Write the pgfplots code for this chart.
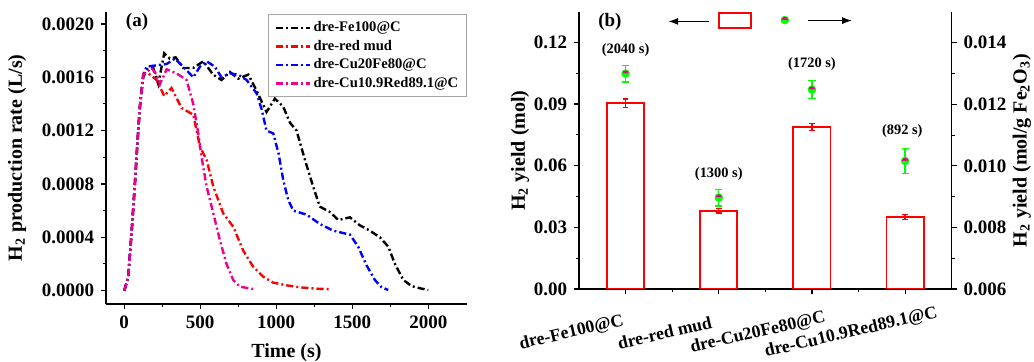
\documentclass[border=0pt]{standalone}
\usepackage{fontspec}
\setmainfont{Liberation Serif}
\usepackage{pgfplots}
\pgfplotsset{compat=1.18}
\usetikzlibrary{arrows.meta,plotmarks}
\pgfplotsset{
  dotlegend/.style={legend image code/.code={\draw[##1] plot coordinates {(0pt,0pt)};}},
  rectlegend/.style={legend image code/.code={\draw[red, line width=0.8pt, fill=none] (0pt,-3.75pt) rectangle (16pt,3.75pt);}},
}

\begin{document}
\begin{tikzpicture}
\useasboundingbox (0pt,0pt) rectangle (517pt,-181pt);
\pgfplotsset{
  every axis/.append style={
    scale only axis,
    tick label style={font=\bfseries\fontsize{9.5}{10}\selectfont},
    label style={font=\bfseries\fontsize{10}{12}\selectfont},
    /pgf/number format/assume math mode=true,
    tick align=outside, major tick length=2.4pt, minor tick length=1.4pt,
    axis line style={-, line width=0.7pt},
    every tick/.style={black, line width=0.6pt},
    every minor tick/.style={black, line width=0.5pt},
  },
  curve/.style={line width=1.2pt, dash pattern=on 3.6pt off 1.5pt on 1pt off 1.5pt},
}

% ---------------- panel (a) ----------------
\begin{axis}[at={(53pt,-152pt)}, anchor=south west, width=180.5pt, height=146pt,
  xmin=-120, xmax=2255, ymin=-0.0001, ymax=0.00209,
  axis x line*=bottom, axis y line*=left,
  xtick={0,500,1000,1500,2000}, minor x tick num=1,
  ytick={0,0.0004,0.0008,0.0012,0.0016,0.002}, minor y tick num=1,
  scaled x ticks=false, scaled y ticks=false,
  xticklabel style={/pgf/number format/1000 sep={}},
  yticklabel style={/pgf/number format/.cd, fixed, fixed zerofill, precision=4},
  xlabel={Time (s)}, ylabel={H\textsubscript{2} production rate (L/s)},
  xlabel style={at={(axis description cs:0.5,-0.168)}, anchor=center},
  ylabel style={at={(axis description cs:-0.2465,0.5)}, anchor=center},
  legend style={at={(0.449,0.993)}, anchor=north west, draw=gray!70, line width=0.5pt,
    fill=white, font=\bfseries\fontsize{7.3}{8}\selectfont, inner xsep=3pt, inner ysep=2pt,
    row sep=0pt, nodes={inner sep=1.2pt, text height=5.4pt, text depth=1.5pt}},
  legend cell align=left,
]
\addplot[black, curve] coordinates {(0,0)(26,0.0001)(48,0.00043)(70,0.0008)(88,0.00113)(103,0.00138)(125,0.0016)(147,0.00166)(191,0.00167)(224,0.00155)(263,0.00178)(300,0.00174)(338,0.00175)(388,0.00167)(454,0.00167)(520,0.00172)(585,0.00162)(640,0.00158)(695,0.00164)(750,0.00159)(816,0.00162)(871,0.0015)(936,0.00134)(991,0.00144)(1046,0.00138)(1090,0.00126)(1134,0.0012)(1189,0.00098)(1243,0.00078)(1287,0.00063)(1353,0.00059)(1408,0.00053)(1485,0.00055)(1550,0.00049)(1616,0.00045)(1682,0.0004)(1737,0.00033)(1781,0.0002)(1836,0.00008)(1890,0.000035)(1945,0.000018)(2000,0.000005)};
\addlegendentry{dre-Fe100@C}
\addplot[red, curve] coordinates {(0,0)(26,0.0001)(48,0.00043)(70,0.0008)(88,0.00113)(103,0.00138)(125,0.00162)(158,0.00163)(213,0.00158)(263,0.00146)(311,0.00152)(377,0.00137)(454,0.00132)(498,0.00108)(542,0.00098)(586,0.00078)(651,0.00058)(717,0.00048)(783,0.0003)(848,0.00018)(914,0.000105)(980,0.00006)(1068,0.00004)(1156,0.000025)(1265,0.000015)(1364,0.00001)};
\addlegendentry{dre-red mud}
\addplot[blue, curve] coordinates {(0,0)(26,0.0001)(48,0.00043)(70,0.0008)(88,0.00113)(103,0.00138)(125,0.00162)(147,0.00168)(213,0.00169)(279,0.0017)(333,0.00174)(388,0.00168)(454,0.0016)(498,0.00168)(542,0.00172)(596,0.00168)(640,0.0016)(695,0.00163)(750,0.00162)(805,0.00158)(871,0.00148)(904,0.00136)(936,0.0012)(980,0.00118)(1015,0.00103)(1046,0.00083)(1079,0.00068)(1112,0.0006)(1200,0.00057)(1287,0.0005)(1375,0.00045)(1485,0.00042)(1539,0.00033)(1594,0.00019)(1649,0.00008)(1693,0.000025)(1737,0.000005)};
\addlegendentry{dre-Cu20Fe80@C}
\addplot[magenta, curve] coordinates {(0,0)(26,0.0001)(48,0.00043)(70,0.0008)(88,0.00113)(103,0.00138)(125,0.00162)(180,0.00167)(213,0.00162)(235,0.00155)(279,0.00166)(344,0.00163)(410,0.00158)(454,0.0014)(487,0.00118)(509,0.001)(542,0.00078)(586,0.00058)(629,0.00038)(673,0.0002)(717,0.00008)(761,0.00003)(849,0.000012)};
\addlegendentry{dre-Cu10.9Red89.1@C}
\node[font=\bfseries\fontsize{9.5}{10}\selectfont] at (rel axis cs:0.086,0.966) {(a)};
\end{axis}

% ---------------- panel (b), left axis ----------------
\begin{axis}[at={(289.5pt,-144.5pt)}, anchor=south west, width=186.35pt, height=138.5pt,
  xmin=-0.5, xmax=3.5, ymin=0, ymax=0.1347,
  axis x line*=bottom, axis y line*=left,
  xtick={0,1,2,3},
  xticklabels={dre-Fe100@C, dre-red mud, dre-Cu20Fe80@C, dre-Cu10.9Red89.1@C},
  minor xtick={0.5,1.5,2.5},
  xticklabel style={rotate=13, anchor=center, xshift=-30.7pt, yshift=-12.9pt,
    font=\bfseries\fontsize{8.9}{9}\selectfont},
  ytick={0,0.03,0.06,0.09,0.12}, minor y tick num=1,
  scaled y ticks=false,
  yticklabel style={/pgf/number format/.cd, fixed, fixed zerofill, precision=2},
  ylabel={H\textsubscript{2} yield (mol)},
  ylabel style={at={(axis description cs:-0.158,0.5)}, anchor=center},
  legend style={at={(0.421,0.969)}, anchor=center, draw=none, fill=none, inner sep=0pt,
    nodes={inner sep=0pt}},
]
\addplot[ybar, bar width=0.4, draw=red, fill=none, line width=0.9pt, rectlegend,
  error bars/.cd, y dir=both, y explicit,
  error bar style={red, line width=0.7pt},
  error mark options={rotate=90, red, mark size=1.4pt, line width=0.7pt}]
  coordinates {(0,0.0904) +- (0,0.0020) (1,0.0381) +- (0,0.0011) (2,0.0788) +- (0,0.0018) (3,0.0350) +- (0,0.0012)};
\addlegendentry{}
\addplot[only marks, mark=none, nodes near coords, point meta=explicit symbolic,
  every node near coord/.style={font=\bfseries\fontsize{7.2}{8}\selectfont, anchor=center, black}]
  coordinates {(0,0.1162) [(2040 s)] (1,0.0559) [(1300 s)] (2,0.1094) [(1720 s)] (2.97,0.0768) [(892 s)]};
\end{axis}

% ---------------- panel (b), right axis ----------------
\begin{axis}[at={(289.5pt,-144.5pt)}, anchor=south west, width=186.35pt, height=138.5pt,
  xmin=-0.5, xmax=3.5, ymin=0.006, ymax=0.015,
  axis y line*=right, axis x line=none,
  ytick={0.006,0.008,0.010,0.012,0.014}, minor y tick num=1,
  scaled y ticks=false,
  yticklabel style={/pgf/number format/.cd, fixed, fixed zerofill, precision=3},
  ylabel={H\textsubscript{2} yield (mol/g Fe\textsubscript{2}O\textsubscript{3})},
  ylabel style={at={(axis description cs:1.188,0.5)}, anchor=center},
  legend style={at={(0.555,0.971)}, anchor=center, draw=none, fill=none, inner sep=0pt,
    nodes={inner sep=0pt}},
]
\addplot[only marks, mark=halfcircle*, mark size=1.9pt, mark options={draw=green, fill=magenta}, mark color=green,
  dotlegend,
  error bars/.cd, y dir=both, y explicit,
  error bar style={green, line width=0.7pt},
  error mark options={rotate=90, green, mark size=1.8pt, line width=0.7pt}]
  coordinates {(0,0.0130) +- (0,0.00027) (1,0.00897) +- (0,0.00027) (2,0.01248) +- (0,0.00029) (3,0.01016) +- (0,0.0004)};
\addlegendentry{}
\node[font=\bfseries\fontsize{9.5}{10}\selectfont] at (rel axis cs:0.083,0.964) {(b)};
\draw[line width=0.8pt, -{Latex[length=5pt,width=3.5pt]}] (rel axis cs:0.349,0.966) -- (rel axis cs:0.239,0.966);
\draw[line width=0.8pt, -{Latex[length=5pt,width=3.5pt]}] (rel axis cs:0.614,0.969) -- (rel axis cs:0.733,0.969);
\end{axis}
\end{tikzpicture}
\end{document}
